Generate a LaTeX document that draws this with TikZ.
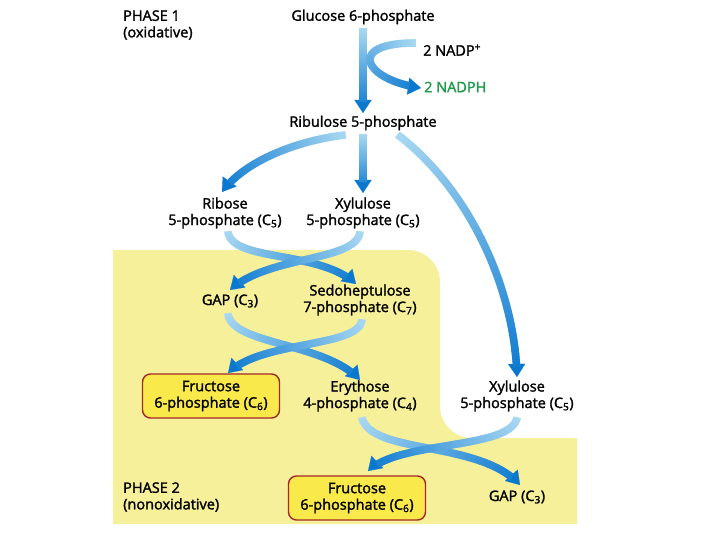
\documentclass[tikz,border=0pt]{standalone}
\usepackage{fontspec}
\setmainfont{Open Sans}[FakeBold=1.8]
\usetikzlibrary{arrows.meta,calc,decorations.markings}
\definecolor{bgyellow}{HTML}{F7F09A}
\definecolor{boxyellow}{HTML}{F9E94B}
\definecolor{boxred}{HTML}{A3282A}
\definecolor{flowlight}{HTML}{A8D8F2}
\definecolor{flowdark}{HTML}{0A78CF}
\definecolor{nadphgreen}{HTML}{1E9B4B}
\newcommand{\flowseg}{%
  \pgfmathtruncatemacro{\flowpct}{min(100,(\pgfkeysvalueof{/pgf/decoration/mark info/distance from start}/\pgfdecoratedpathlength)*100)}%
  \draw[line width=7.5pt, line cap=butt, color=flowdark!\flowpct!flowlight] (-0.8pt,0pt) -- (0.8pt,0pt);}
\tikzset{
  lbl/.style={align=center, inner sep=1pt, font=\fontsize{14.5}{16.5}\selectfont},
  phase/.style={lbl, align=left, anchor=west},
  sugarbox/.style={lbl, draw=boxred, fill=boxyellow, line width=1.4pt, rounded corners=8pt,
                   minimum width=137pt, minimum height=44pt},
  flow/.style={decoration={markings,
      mark=between positions 0 and -12pt step 1pt with {\flowseg}},
    postaction={draw=flowdark, line width=0.1pt, -{Triangle[length=13pt, width=17pt]}},
    postaction={decorate}},
}
\begin{document}
\begin{tikzpicture}[x=1pt, y=-1pt]
  \useasboundingbox (0,0) rectangle (720,540);
  % nonoxidative phase background
  \fill[bgyellow] (113,250) -- (400,250) [rounded corners=32pt] -- (440,250) -- (440,438) -- (480,438)
    [sharp corners] -- (577,438) -- (577,524) -- (113,524) -- cycle;
  % phase 1
  \node[phase] (ph1) at (122,25) {PHASE 1\\(oxidative)};
  \node[lbl] (glc) at (363,17) {Glucose 6-phosphate};
  \node[lbl, anchor=west] (nadp) at (422,50) {2 NADP\textsuperscript{+}};
  \node[lbl, anchor=west, text=nadphgreen] (nadph) at (423,87) {2 NADPH};
  \node[lbl] (ru5p) at (363,123) {Ribulose 5-phosphate};
  \node[lbl] (r5p) at (225,213) {Ribose\\5-phosphate (C\textsubscript{5})};
  \node[lbl] (xu5p) at (363,213) {Xylulose\\5-phosphate (C\textsubscript{5})};
  % phase 2
  \node[lbl] (gap) at (230,301) {GAP (C\textsubscript{3})};
  \node[lbl] (s7p) at (360,300) {Sedoheptulose\\7-phosphate (C\textsubscript{7})};
  \node[sugarbox] (f6p) at (211,396) {Fructose\\6-phosphate (C\textsubscript{6})};
  \node[lbl] (e4p) at (360,396) {Erythose\\4-phosphate (C\textsubscript{4})};
  \node[lbl] (xu5pr) at (517,396) {Xylulose\\5-phosphate (C\textsubscript{5})};
  \node[sugarbox] (f6pb) at (357,498) {Fructose\\6-phosphate (C\textsubscript{6})};
  \node[lbl] (gapr) at (517,497) {GAP (C\textsubscript{3})};
  \node[phase] (ph2) at (122,497) {PHASE 2\\(nonoxidative)};
  % oxidative arrows
  \path[flow] ($(glc)+(0,12)$) -- ($(ru5p)+(0,-10)$);
  \path[flow] ($(nadp.west)+(-7,-7)$) .. controls +(-70,0) and +(-57,-8) .. ($(nadph.west)+(-2,1)$);
  \path[flow] ($(ru5p)+(-18,12)$) .. controls +(-45,5) and +(23,-32) .. ($(r5p)+(-3,-21)$);
  \path[flow] ($(ru5p)+(0,12)$) -- ($(xu5p)+(0,-20)$);
  \path[flow] ($(ru5p)+(35,12)$) .. controls +(72,55) and +(-2,-87) .. ($(xu5pr)+(0,-19)$);
  % transketolase / transaldolase crossings
  \path[flow] ($(r5p)+(3,19)$) .. controls +(4,30) and +(-36,-34) .. ($(s7p)+(-4,-16)$);
  \path[flow] ($(xu5p)+(-3,19)$) .. controls +(-4,30) and +(38,-35) .. ($(gap)+(0,-11)$);
  \path[flow] ($(gap)+(-2,13)$) .. controls +(4,31) and +(-35,-38) .. ($(e4p)+(0,-16)$);
  \path[flow] ($(s7p)+(2,20)$) .. controls +(-4,28) and +(34,-33) .. ($(f6p)+(17,-23)$);
  \path[flow] ($(e4p)+(2,22)$) .. controls +(10,37) and +(-40,-45) .. ($(gapr)+(3,-12)$);
  \path[flow] ($(xu5pr)+(0,22)$) .. controls +(-7,32) and +(32,-31) .. ($(f6pb)+(11,-27)$);
\end{tikzpicture}
\end{document}
